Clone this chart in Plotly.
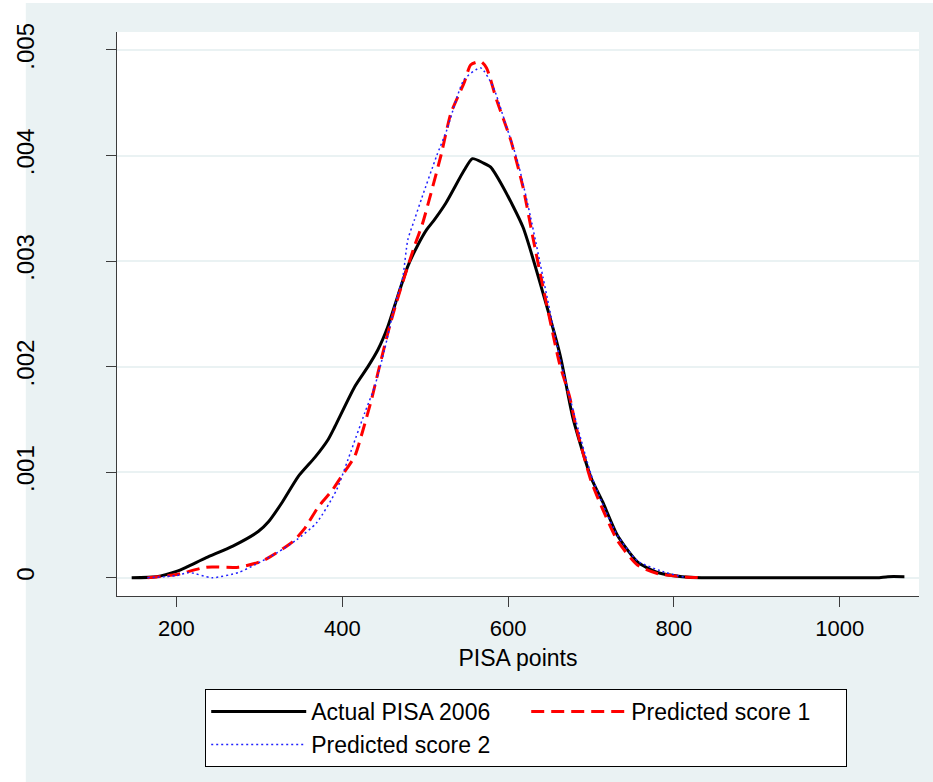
import plotly.graph_objects as go

# ---- data ----
actual_x = [146, 176, 200, 212, 236, 268, 299, 311, 328, 347, 367, 383, 391, 415, 431, 443, 455,
            467, 479, 491, 502, 511, 525, 547, 557, 570, 579, 594, 618, 642, 663, 678, 700, 714,
            732, 756, 780, 810, 833, 900, 1000, 1045, 1058, 1078]
actual_y = [0, 0.00001, 0.00006, 0.0001, 0.00019, 0.0003, 0.00044, 0.00053, 0.00072, 0.00096,
            0.00114, 0.00131, 0.00143, 0.00181, 0.002, 0.00216, 0.00238, 0.00267, 0.00295,
            0.00315, 0.0033, 0.00339, 0.00355, 0.00386, 0.00397, 0.00393, 0.00389, 0.0037,
            0.00332, 0.0027, 0.0021, 0.00152, 0.00095, 0.00072, 0.0004, 0.00015, 0.00005,
            0.00001, 0, 0, 0, 0, 0.00001, 0.00001]

pred1_x = [165, 200, 236, 275, 304, 340, 355, 371, 388, 399, 415, 425, 435, 443, 455, 465, 475,
           487, 497, 519, 531, 547, 555, 567, 574, 586, 603, 618, 630, 642, 662, 674, 682, 700,
           714, 732, 756, 780, 810, 833]
pred1_y = [0, 0.00003, 0.0001, 0.0001, 0.00016, 0.00034, 0.00047, 0.00067, 0.00083, 0.00096,
           0.00115, 0.0014, 0.00168, 0.00194, 0.00232, 0.0026, 0.00285, 0.00314, 0.00336, 0.004,
           0.0044, 0.00469, 0.00486, 0.00489, 0.00483, 0.00453, 0.00415, 0.0037, 0.00322,
           0.00276, 0.00203, 0.00172, 0.00143, 0.00092, 0.00065, 0.00035, 0.00012, 0.00004,
           0.00001, 0]

pred2_x = [165, 200, 215, 243, 275, 294, 322, 345, 369, 393, 411, 427, 439, 451, 463, 473, 479,
           487, 496, 514, 526, 547, 567, 582, 597, 612, 627, 642, 662, 682, 700, 714, 732, 756,
           786, 815]
pred2_y = [0, 0.00002, 0.00005, 0.0, 0.00005, 0.00012, 0.00024, 0.00036, 0.00052, 0.00083,
           0.00121, 0.00156, 0.00181, 0.00216, 0.00257, 0.00285, 0.0032, 0.00339, 0.0036, 0.004,
           0.00424, 0.00472, 0.00483, 0.00465, 0.0043, 0.00393, 0.00342, 0.00285, 0.0021,
           0.00148, 0.00098, 0.0007, 0.0004, 0.00016, 0.00006, 0]

y_tick_vals = [0, 0.001, 0.002, 0.003, 0.004, 0.005]
y_tick_text = ["0", ".001", ".002", ".003", ".004", ".005"]
x_tick_vals = [200, 400, 600, 800, 1000]
x_tick_text = ["200", "400", "600", "800", "1000"]

names = ["Actual PISA 2006", "Predicted score 1", "Predicted score 2"]

FONT = "Liberation Sans, Arial, Helvetica, sans-serif"
BG = "#EAF2F3"
AXIS = "#3c3c3c"

fig = go.Figure()
fig.add_trace(go.Scatter(x=actual_x, y=actual_y, mode="lines", name=names[0],
                         line=dict(color="black", width=3, shape="spline", smoothing=0.6)))
fig.add_trace(go.Scatter(x=pred1_x, y=pred1_y, mode="lines", name=names[1],
                         line=dict(color="#FF0000", width=3, dash="13px,7px",
                                   shape="spline", smoothing=0.6)))
fig.add_trace(go.Scatter(x=pred2_x, y=pred2_y, mode="lines", name=names[2],
                         line=dict(color="#2020FF", width=1.5, dash="2px,3px",
                                   shape="spline", smoothing=0.6)))

fig.update_layout(
    width=933, height=782,
    margin=dict(l=110, r=14, t=32, b=186),
    paper_bgcolor=BG, plot_bgcolor="white",
    font=dict(family=FONT, color="black", size=22),
    showlegend=True,
    legend=dict(
        orientation="h", x=0.11, y=-0.165, xanchor="left", yanchor="top",
        bgcolor="white", bordercolor="black", borderwidth=1,
        font=dict(family=FONT, size=23, color="black"),
        entrywidth=210, entrywidthmode="pixels", itemwidth=95,
    ),
    shapes=[
        dict(type="rect", xref="paper", yref="paper", x0=-0.2, x1=(18 - 110) / 809,
             y0=-0.5, y1=1.2, fillcolor="white", line=dict(width=0), layer="below"),
        dict(type="rect", xref="paper", yref="paper", x0=-0.2, x1=1.1,
             y0=1 + (32 - 3) / 564, y1=1.2, fillcolor="white", line=dict(width=0), layer="below"),
    ],
)

fig.update_xaxes(
    range=[128.3, 1095.6], tickvals=x_tick_vals, ticktext=x_tick_text,
    showgrid=False, zeroline=False, showline=True, linecolor=AXIS, linewidth=1,
    ticks="outside", ticklen=10, tickcolor=AXIS, tickwidth=1, ticklabelstandoff=3,
    tickfont=dict(size=22, family=FONT, color="black"),
    title=dict(text="PISA points", font=dict(size=23, family=FONT, color="black"), standoff=9),
)
fig.update_yaxes(
    range=[-0.000173, 0.00517], tickvals=y_tick_vals, ticktext=y_tick_text,
    showgrid=True, gridcolor=BG, gridwidth=2, zeroline=False,
    showline=True, linecolor=AXIS, linewidth=1,
    ticks="outside", ticklen=10, tickcolor=AXIS, tickwidth=1,
    tickangle=-90, ticklabelstandoff=62,
    tickfont=dict(size=24, family=FONT, color="black"),
)

fig.write_html("out.html", config={"displayModeBar": False},
               post_script="document.body.style.margin='0';")
